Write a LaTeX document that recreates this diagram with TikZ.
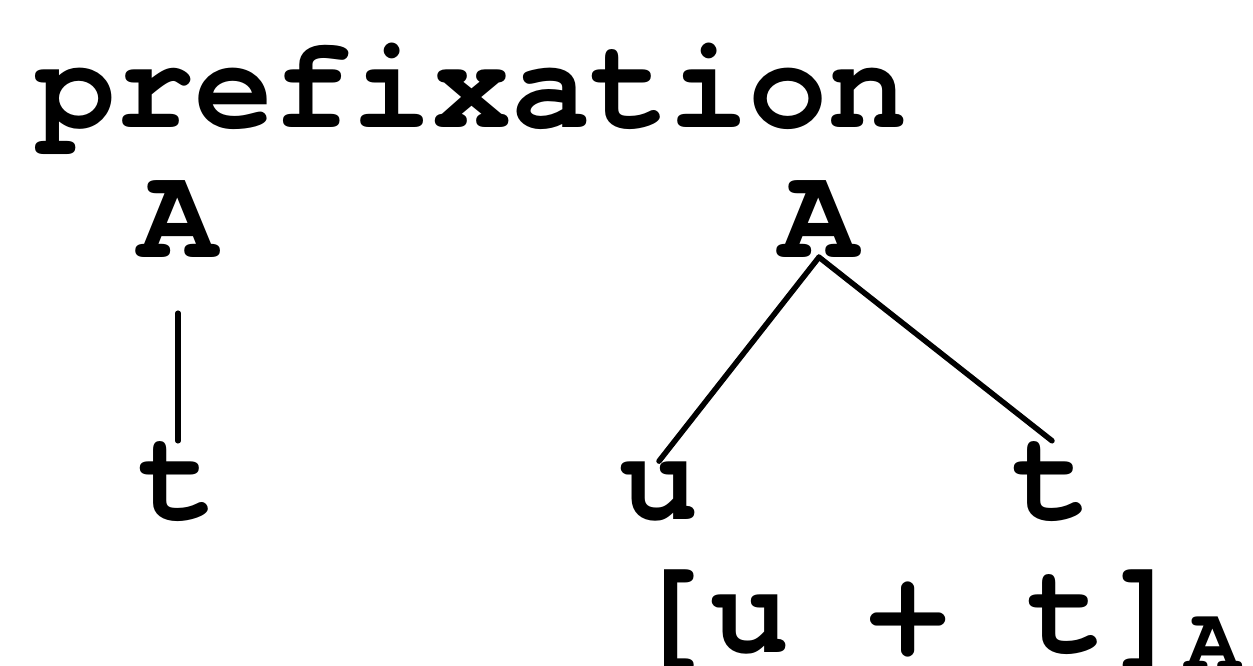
\documentclass[tikz,border=0pt]{standalone}
\usepackage{fontspec}
\setmonofont[Ligatures=NoCommon]{TeX Gyre Cursor}
\usepackage{tikz}
\usetikzlibrary{positioning}

\begin{document}
\begin{tikzpicture}[x=1pt, y=-1pt,
  lbl/.style={inner sep=0pt, font=\ttfamily\bfseries\fontsize{132}{132}\selectfont},
  edge/.style={line width=5.5pt, line cap=round},
]
  \useasboundingbox (0,0) rectangle (1253,666);

  \node[lbl, anchor=base west] (title) at (36,128) {prefixation};

  \node[lbl, anchor=base] (lA) at (178,257) {A};
  \node[lbl, anchor=base] (lT) at (178,519) {t};

  \node[lbl, anchor=base] (rA) at (819,257) {A};
  \node[lbl, anchor=base] (u) at (659,519) {u};
  \node[lbl, anchor=base] (rT) at (1052,519) {t};

  \node[lbl, anchor=base west] (sum) at (631,652)
    {[u + t]{\fontsize{92}{92}\selectfont\raisebox{-18pt}{A}}};

  \draw[edge, shorten <=56pt] (lA.south) -- (lT.north);
  \draw[edge] (rA.south) -- (u.north);
  \draw[edge] (rA.south) -- (rT.north);
\end{tikzpicture}
\end{document}
